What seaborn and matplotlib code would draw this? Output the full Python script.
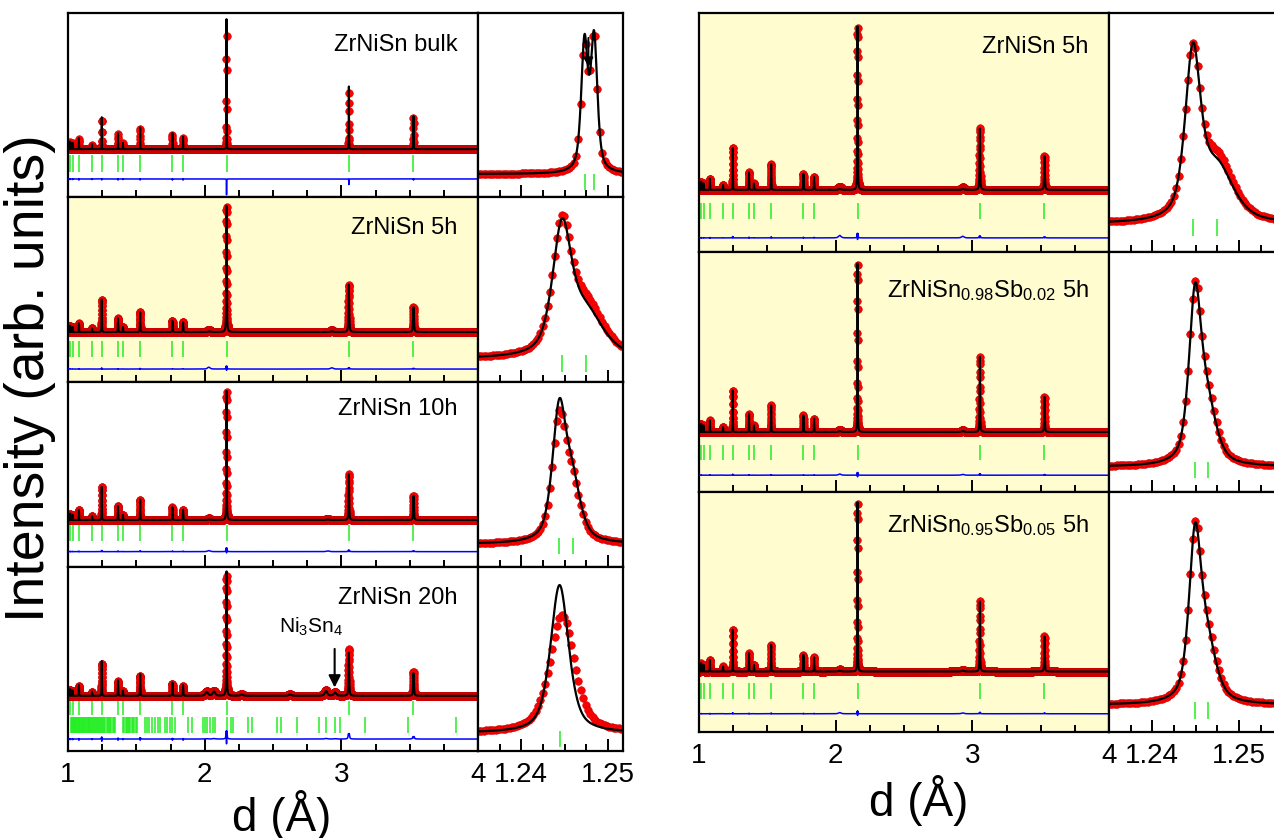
"""Rietveld fits of ZrNiSn (milled) and ZrNiSn1-xSbx samples, d-spacing view."""

import matplotlib
matplotlib.use("Agg")
import matplotlib.pyplot as plt
import numpy as np
import seaborn as sns
from matplotlib.ticker import FormatStrFormatter, MultipleLocator
from matplotlib.transforms import blended_transform_factory

# ---------------------------------------------------------------- data
# ZrNiSn reflections (d, Angstrom) -- green markers / peak positions
ZRNISN_D = [1.016, 1.034, 1.080, 1.176, 1.247, 1.366, 1.402, 1.528,
            1.764, 1.842, 2.160, 3.055, 3.528]

# Ni3Sn4 reflection markers (20h sample, second row)
NI3SN4_D = [1.022, 1.027, 1.031, 1.036, 1.041, 1.046, 1.050, 1.055, 1.061,
            1.066, 1.071, 1.077, 1.083, 1.089, 1.095, 1.101, 1.108, 1.113,
            1.119, 1.125, 1.131, 1.137, 1.143, 1.150, 1.156, 1.162, 1.169,
            1.176, 1.182, 1.189, 1.196, 1.203, 1.211, 1.218, 1.226, 1.234,
            1.241, 1.250, 1.258, 1.266, 1.274, 1.283, 1.291, 1.300, 1.309,
            1.318, 1.328, 1.338, 1.347, 1.405, 1.413, 1.421, 1.430, 1.438,
            1.447, 1.456, 1.466, 1.476, 1.486, 1.497, 1.507, 1.563, 1.578,
            1.596, 1.612, 1.637, 1.655, 1.673, 1.710, 1.728, 1.745, 1.760,
            1.780, 1.876, 1.910, 1.990, 2.005, 2.020, 2.040, 2.058, 2.076,
            2.161, 2.190, 2.205, 2.320, 2.350, 2.530, 2.556, 2.673, 2.840,
            2.886, 2.954, 2.990, 3.173, 3.486, 3.839]

LEFT_LABELS = ["ZrNiSn bulk", "ZrNiSn 5h", "ZrNiSn 10h", "ZrNiSn 20h"]
RIGHT_LABELS = ["ZrNiSn 5h",
                r"ZrNiSn$_{0.98}$Sb$_{0.02}$ 5h",
                r"ZrNiSn$_{0.95}$Sb$_{0.05}$ 5h"]

# peak heights at ZRNISN_D, strongest (2.16 A) observed = 100
OBS_BULK = [6, 5, 9, 4, 27, 13, 5, 18, 13, 10, 100, 50, 28]
CALC_BULK = [6.5, 5.5, 10, 4.5, 28, 14, 5.5, 19, 14, 11, 114, 55, 29]
OBS_5H = [5, 4, 7, 3, 26, 11, 4, 16, 9, 8, 100, 38, 20]
CALC_5H = [5, 4, 7, 3, 26, 11, 4, 16, 9, 8, 101, 38, 20]
OBS_10H = [5, 4, 8, 3, 26, 11, 4, 16, 10, 8, 100, 36, 19]
CALC_10H = [5, 4, 8, 3, 26, 11, 4, 16, 10, 8, 101, 36, 19]
OBS_20H = [5, 4, 8, 3, 27, 12, 4, 17, 10, 8, 100, 39, 20]
CALC_20H = [5.5, 4.5, 9, 3.5, 29, 13, 4.5, 18, 11, 9, 104, 36, 19]
OBS_5H_B = [5, 4, 7, 3, 26, 11, 4, 16, 10, 8, 100, 38, 21]
CALC_5H_B = [5, 4, 7, 3, 26, 11, 4, 16, 10, 8, 101, 38, 21]
OBS_SB02 = [5, 4, 7, 3, 25, 11, 4, 16, 10, 8, 100, 45, 21]
CALC_SB02 = [5, 4, 7, 3, 25, 11, 4, 16, 10, 8, 101, 45, 21]
OBS_SB05 = [5, 4, 7, 3, 25, 11, 4, 16, 10, 8.5, 100, 42, 21]
CALC_SB05 = [5, 4, 7, 3, 25, 11, 4, 16, 10, 8.5, 101, 42, 21]

# relative peak width (FWHM / d), observed and calculated
WIDTH_OBS = [7.2e-4, 2.2e-3, 1.8e-3, 2.3e-3, 1.9e-3, 1.5e-3, 1.5e-3]
WIDTH_CALC = [7.0e-4, 2.1e-3, 1.7e-3, 2.0e-3, 1.8e-3, 1.45e-3, 1.45e-3]

# weak extra features (impurity humps, Ni3Sn4 peaks)
EXTRA_POS_5H = [2.03, 2.93]
EXTRA_OBS_5H = [2.0, 1.5]
EXTRA_CALC_5H = [0.5, 0.5]
EXTRA_POS_10H = [2.03, 2.90]
EXTRA_OBS_10H = [1.2, 1.0]
EXTRA_CALC_10H = [0.4, 0.4]
EXTRA_POS_20H = [2.015, 2.068, 2.27, 2.624, 2.888, 2.954]
EXTRA_OBS_20H = [3.5, 4.0, 1.2, 1.2, 4.5, 3.0]
EXTRA_CALC_20H = [3.2, 3.6, 1.2, 1.2, 4.0, 2.7]
EXTRA_POS_SB = [2.03, 2.93]
EXTRA_OBS_SB = [1.2, 1.0]
EXTRA_CALC_SB = [0.5, 0.5]

# zoom on the (422) reflection: component positions, heights, FWHM
ZOOM_POS_BULK = [1.2473, 1.2484]
ZOOM_CALC_BULK = [92, 95]
ZOOM_OBS_BULK = [87, 98]
ZOOM_W_BULK = [0.0009, 0.0009]
ZOOM_POS_5H = [1.24469, 1.24746]
ZOOM_CALC_5H = [95, 33]
ZOOM_OBS_5H = [95, 39]
ZOOM_W_5H = [0.0026, 0.0048]
ZOOM_POS_10H = [1.24438, 1.24592]
ZOOM_CALC_10H = [85, 35]
ZOOM_OBS_10H = [78, 33]
ZOOM_W_10H = [0.0019, 0.0022]
ZOOM_POS_20H = [1.24442]
ZOOM_CALC_20H = [100]
ZOOM_OBS_20H = [80]
ZOOM_W_20H = [0.0025]
ZOOM_POS_5H_B = [1.24468, 1.24748]
ZOOM_CALC_5H_B = [100, 33]
ZOOM_OBS_5H_B = [98, 38]
ZOOM_W_5H_B = [0.0021, 0.0045]
ZOOM_POS_SB = [1.24494, 1.24638]
ZOOM_CALC_SB = [92, 30]
ZOOM_OBS_SB = [92, 33]
ZOOM_W_SB = [0.0017, 0.0024]
ZOOM_OBS_WSCALE = [1.0, 1.0, 1.0, 1.36, 1.0, 1.0, 1.0]
ZOOM_SHIFT_OBS = [0.0, 0.0, 0.0, 0.0003, 0.0, 0.0, 0.0]

# ---------------------------------------------------------------- style
sns.set_theme(style="white")
plt.rcParams["font.family"] = ["Liberation Sans", "DejaVu Sans"]
plt.rcParams["mathtext.default"] = "regular"
plt.rcParams["text.color"] = "black"
plt.rcParams["xtick.color"] = "black"

RED, RED_EDGE = "#ff0000", "#cc0000"
GREEN, BLUE = "#22ee22", "#0000ff"
YELLOW = "#fffdd0"

W_PX, H_PX = 1274, 838
LEFT_ROWS = [(13, 197), (197, 382), (382, 567), (567, 751)]
RIGHT_ROWS = [(13, 252), (252, 492), (492, 732)]
LEFT_X = (68, 478, 623)
RIGHT_X = (699, 1109, 1309)

# main panels: baseline, 100-level, marker band, diff line (axes fractions)
MAIN_FRAC = [(0.26, 0.88, 0.136, 0.228, 0.098),
             (0.27, 0.946, 0.135, 0.222, 0.07),
             (0.254, 0.945, 0.138, 0.226, 0.083),
             (0.30, 0.95, 0.196, 0.272, 0.065),
             (0.26, 0.937, 0.139, 0.206, 0.059),
             (0.25, 0.946, 0.133, 0.196, 0.07),
             (0.252, 0.95, 0.139, 0.206, 0.076)]
LABEL_Y = [0.826, 0.83, 0.856, 0.83, 0.857, 0.84, 0.862]
# zoom panels: baseline, peak top, marker band
ZOOM_FRAC = [(0.125, 0.907, 0.038, 0.125),
             (0.125, 0.886, 0.054, 0.147),
             (0.124, 0.914, 0.07, 0.157),
             (0.098, 0.902, 0.022, 0.109),
             (0.118, 0.878, 0.067, 0.139),
             (0.105, 0.874, 0.059, 0.126),
             (0.113, 0.874, 0.054, 0.126)]

STEP = 2.2e-4  # relative step of the measured d grid
D_OBS = 1.0 * (1 + STEP) ** np.arange(int(np.log(4.0) / np.log1p(STEP)) + 1)
D_FINE = np.geomspace(1.0, 4.0, 30000)


def pvoigt(x, pos, height, fwhm, eta=0.6):
    x = np.asarray(x, float)[:, None]
    u = (x - np.asarray(pos, float)) / np.asarray(fwhm, float)
    shape = eta / (1 + 4 * u**2) + (1 - eta) * np.exp(-4 * np.log(2) * u**2)
    return shape @ np.asarray(height, float)


def main_profile(x, heights, k, extra_pos, extra_h, extra_w=0.022):
    pos = list(ZRNISN_D) + list(extra_pos)
    w = [k * d for d in ZRNISN_D] + [extra_w] * len(extra_pos)
    return pvoigt(x, pos, list(heights) + list(extra_h), w)


def px_axes(fig, x0, x1, y0, y1):
    return fig.add_axes([x0 / W_PX, 1 - y1 / H_PX, (x1 - x0) / W_PX, (y1 - y0) / H_PX])


def style_axes(ax, bottom_row, major, minor, fmt):
    for s in ax.spines.values():
        s.set_color("black")
        s.set_linewidth(1.6)
    ax.xaxis.set_major_locator(MultipleLocator(major))
    ax.xaxis.set_minor_locator(MultipleLocator(minor))
    ax.xaxis.set_major_formatter(FormatStrFormatter(fmt))
    ax.tick_params(which="both", direction="in", bottom=True, top=False,
                   left=False, right=False, labelleft=False,
                   labelbottom=bottom_row, width=1.4, colors="black",
                   labelsize=20, pad=8)
    ax.tick_params(which="major", length=9)
    ax.tick_params(which="minor", length=5)
    ax.set_yticks([])
    ax.set_xlabel("")
    ax.set_ylabel("")


def draw_main(ax, row, frac):
    b, t, tlo, thi, fdiff = frac
    ymin, ymax = -b * 100 / (t - b), (1 - b) * 100 / (t - b)
    obs = main_profile(D_OBS, row["obs"], row["k_obs"], row["xpos"], row["xobs"])
    calc = main_profile(D_FINE, row["calc"], row["k_calc"], row["xpos"], row["xcalc"])
    calc_at_obs = main_profile(D_OBS, row["calc"], row["k_calc"], row["xpos"], row["xcalc"])
    off = ymin + fdiff * (ymax - ymin)
    if row["yellow"]:
        ax.set_facecolor(YELLOW)
    sns.scatterplot(x=D_OBS, y=obs, ax=ax, color=RED, edgecolor=RED_EDGE,
                    linewidth=0.4, s=30, legend=False, zorder=2)
    sns.lineplot(x=D_FINE, y=calc, ax=ax, color="black", lw=1.5,
                 estimator=None, sort=False, legend=False, zorder=3)
    sns.lineplot(x=D_OBS, y=off + (obs - calc_at_obs), ax=ax, color=BLUE,
                 lw=1.1, estimator=None, sort=False, legend=False, zorder=3)
    xt = ax.get_xaxis_transform()
    ax.vlines(ZRNISN_D, tlo, thi, transform=xt, color=GREEN, lw=1.1)
    if row.get("second_phase"):
        ax.vlines(NI3SN4_D, 0.098, 0.185, transform=xt, color=GREEN, lw=1.1)
    ax.set_xlim(1.0, 4.0)
    ax.set_ylim(ymin, ymax)


def draw_zoom(ax, row, frac, xlim):
    b, t, tlo, thi = frac
    i = row["idx"]
    fine = np.linspace(xlim[0], xlim[1], 1500)
    calc = pvoigt(fine, row["zpos"], row["zcalc"], row["zw"])
    d = D_OBS[(D_OBS >= xlim[0]) & (D_OBS <= xlim[1])]
    obs = pvoigt(d, np.asarray(row["zpos"]) + ZOOM_SHIFT_OBS[i], row["zobs"],
                 np.asarray(row["zw"]) * ZOOM_OBS_WSCALE[i])
    cmax = calc.max()
    sns.scatterplot(x=d, y=obs, ax=ax, color=RED, edgecolor=RED_EDGE,
                    linewidth=0.4, s=30, legend=False, zorder=2)
    sns.lineplot(x=fine, y=calc, ax=ax, color="black", lw=1.6,
                 estimator=None, sort=False, legend=False, zorder=3)
    ax.vlines(row["zpos"], tlo, thi, transform=ax.get_xaxis_transform(),
              color=GREEN, lw=1.1)
    ax.set_xlim(*xlim)
    ax.set_ylim(-b * cmax / (t - b), (1 - b) * cmax / (t - b))


rows = [
    dict(idx=0, label=LEFT_LABELS[0], obs=OBS_BULK, calc=CALC_BULK, xpos=[], xobs=[], xcalc=[],
         yellow=False, zpos=ZOOM_POS_BULK, zcalc=ZOOM_CALC_BULK, zobs=ZOOM_OBS_BULK,
         zw=ZOOM_W_BULK),
    dict(idx=1, label=LEFT_LABELS[1], obs=OBS_5H, calc=CALC_5H, xpos=EXTRA_POS_5H,
         xobs=EXTRA_OBS_5H, xcalc=EXTRA_CALC_5H, yellow=True,
         zpos=ZOOM_POS_5H, zcalc=ZOOM_CALC_5H, zobs=ZOOM_OBS_5H, zw=ZOOM_W_5H),
    dict(idx=2, label=LEFT_LABELS[2], obs=OBS_10H, calc=CALC_10H, xpos=EXTRA_POS_10H,
         xobs=EXTRA_OBS_10H, xcalc=EXTRA_CALC_10H, yellow=False,
         zpos=ZOOM_POS_10H, zcalc=ZOOM_CALC_10H, zobs=ZOOM_OBS_10H, zw=ZOOM_W_10H),
    dict(idx=3, label=LEFT_LABELS[3], obs=OBS_20H, calc=CALC_20H, xpos=EXTRA_POS_20H,
         xobs=EXTRA_OBS_20H, xcalc=EXTRA_CALC_20H, yellow=False, second_phase=True,
         zpos=ZOOM_POS_20H, zcalc=ZOOM_CALC_20H, zobs=ZOOM_OBS_20H, zw=ZOOM_W_20H),
    dict(idx=4, label=RIGHT_LABELS[0], obs=OBS_5H_B, calc=CALC_5H_B, xpos=EXTRA_POS_5H,
         xobs=EXTRA_OBS_5H, xcalc=EXTRA_CALC_5H, yellow=True,
         zpos=ZOOM_POS_5H_B, zcalc=ZOOM_CALC_5H_B, zobs=ZOOM_OBS_5H_B, zw=ZOOM_W_5H_B),
    dict(idx=5, label=RIGHT_LABELS[1], obs=OBS_SB02, calc=CALC_SB02, xpos=EXTRA_POS_SB,
         xobs=EXTRA_OBS_SB, xcalc=EXTRA_CALC_SB, yellow=True,
         zpos=ZOOM_POS_SB, zcalc=ZOOM_CALC_SB, zobs=ZOOM_OBS_SB, zw=ZOOM_W_SB),
    dict(idx=6, label=RIGHT_LABELS[2], obs=OBS_SB05, calc=CALC_SB05, xpos=EXTRA_POS_SB,
         xobs=EXTRA_OBS_SB, xcalc=EXTRA_CALC_SB, yellow=True,
         zpos=ZOOM_POS_SB, zcalc=ZOOM_CALC_SB, zobs=ZOOM_OBS_SB, zw=ZOOM_W_SB),
]
for r in rows:
    r["k_obs"] = WIDTH_OBS[r["idx"]]
    r["k_calc"] = WIDTH_CALC[r["idx"]]

fig = plt.figure(figsize=(W_PX / 100, H_PX / 100), dpi=100)

layout = [(LEFT_X, y, i == len(LEFT_ROWS) - 1) for i, y in enumerate(LEFT_ROWS)]
layout += [(RIGHT_X, y, i == len(RIGHT_ROWS) - 1) for i, y in enumerate(RIGHT_ROWS)]

for row, ((x0, x1, x2), (y0, y1), last) in zip(rows, layout):
    i = row["idx"]
    ax = px_axes(fig, x0, x1, y0, y1)
    draw_main(ax, row, MAIN_FRAC[i])
    style_axes(ax, last, 1, 0.25, "%d")
    ax.text(0.95, LABEL_Y[i], row["label"], transform=ax.transAxes,
            ha="right", va="center", fontsize=17, color="black")

    zax = px_axes(fig, x1, x2, y0, y1)
    zlim = (1.235, 1.235 + (x2 - x1) / 8660)
    draw_zoom(zax, row, ZOOM_FRAC[i], zlim)
    style_axes(zax, last, 0.01, 0.0025, "%.2f")

    if i == 0:
        zax.annotate("", xy=(1.24775, 0.69), xytext=(1.24775, 0.88),
                     xycoords=("data", "axes fraction"),
                     textcoords=("data", "axes fraction"),
                     arrowprops=dict(arrowstyle="-|>", color="black", lw=1.4,
                                     mutation_scale=14), zorder=5)
    if i == 3:
        ax.annotate("", xy=(2.951, 0.33), xytext=(2.951, 0.57),
                    xycoords=("data", "axes fraction"),
                    textcoords=("data", "axes fraction"),
                    arrowprops=dict(arrowstyle="-|>", color="black", lw=1.5,
                                    mutation_scale=18), zorder=5)
        ax.text(2.778, 0.674, r"Ni$_3$Sn$_4$", fontsize=15, ha="center", va="center",
                color="black",
                transform=blended_transform_factory(ax.transData, ax.transAxes))

fig.text(30 / W_PX, 1 - 378 / H_PX, "Intensity (arb. units)", rotation=90,
         ha="center", va="center", fontsize=40, color="black")
fig.text(282 / W_PX, 1 - 815 / H_PX, "d (Å)", ha="center", va="center",
         fontsize=33, color="black")
fig.text(919 / W_PX, 1 - 800 / H_PX, "d (Å)", ha="center", va="center",
         fontsize=33, color="black")

fig.savefig("out.png", dpi=100)
